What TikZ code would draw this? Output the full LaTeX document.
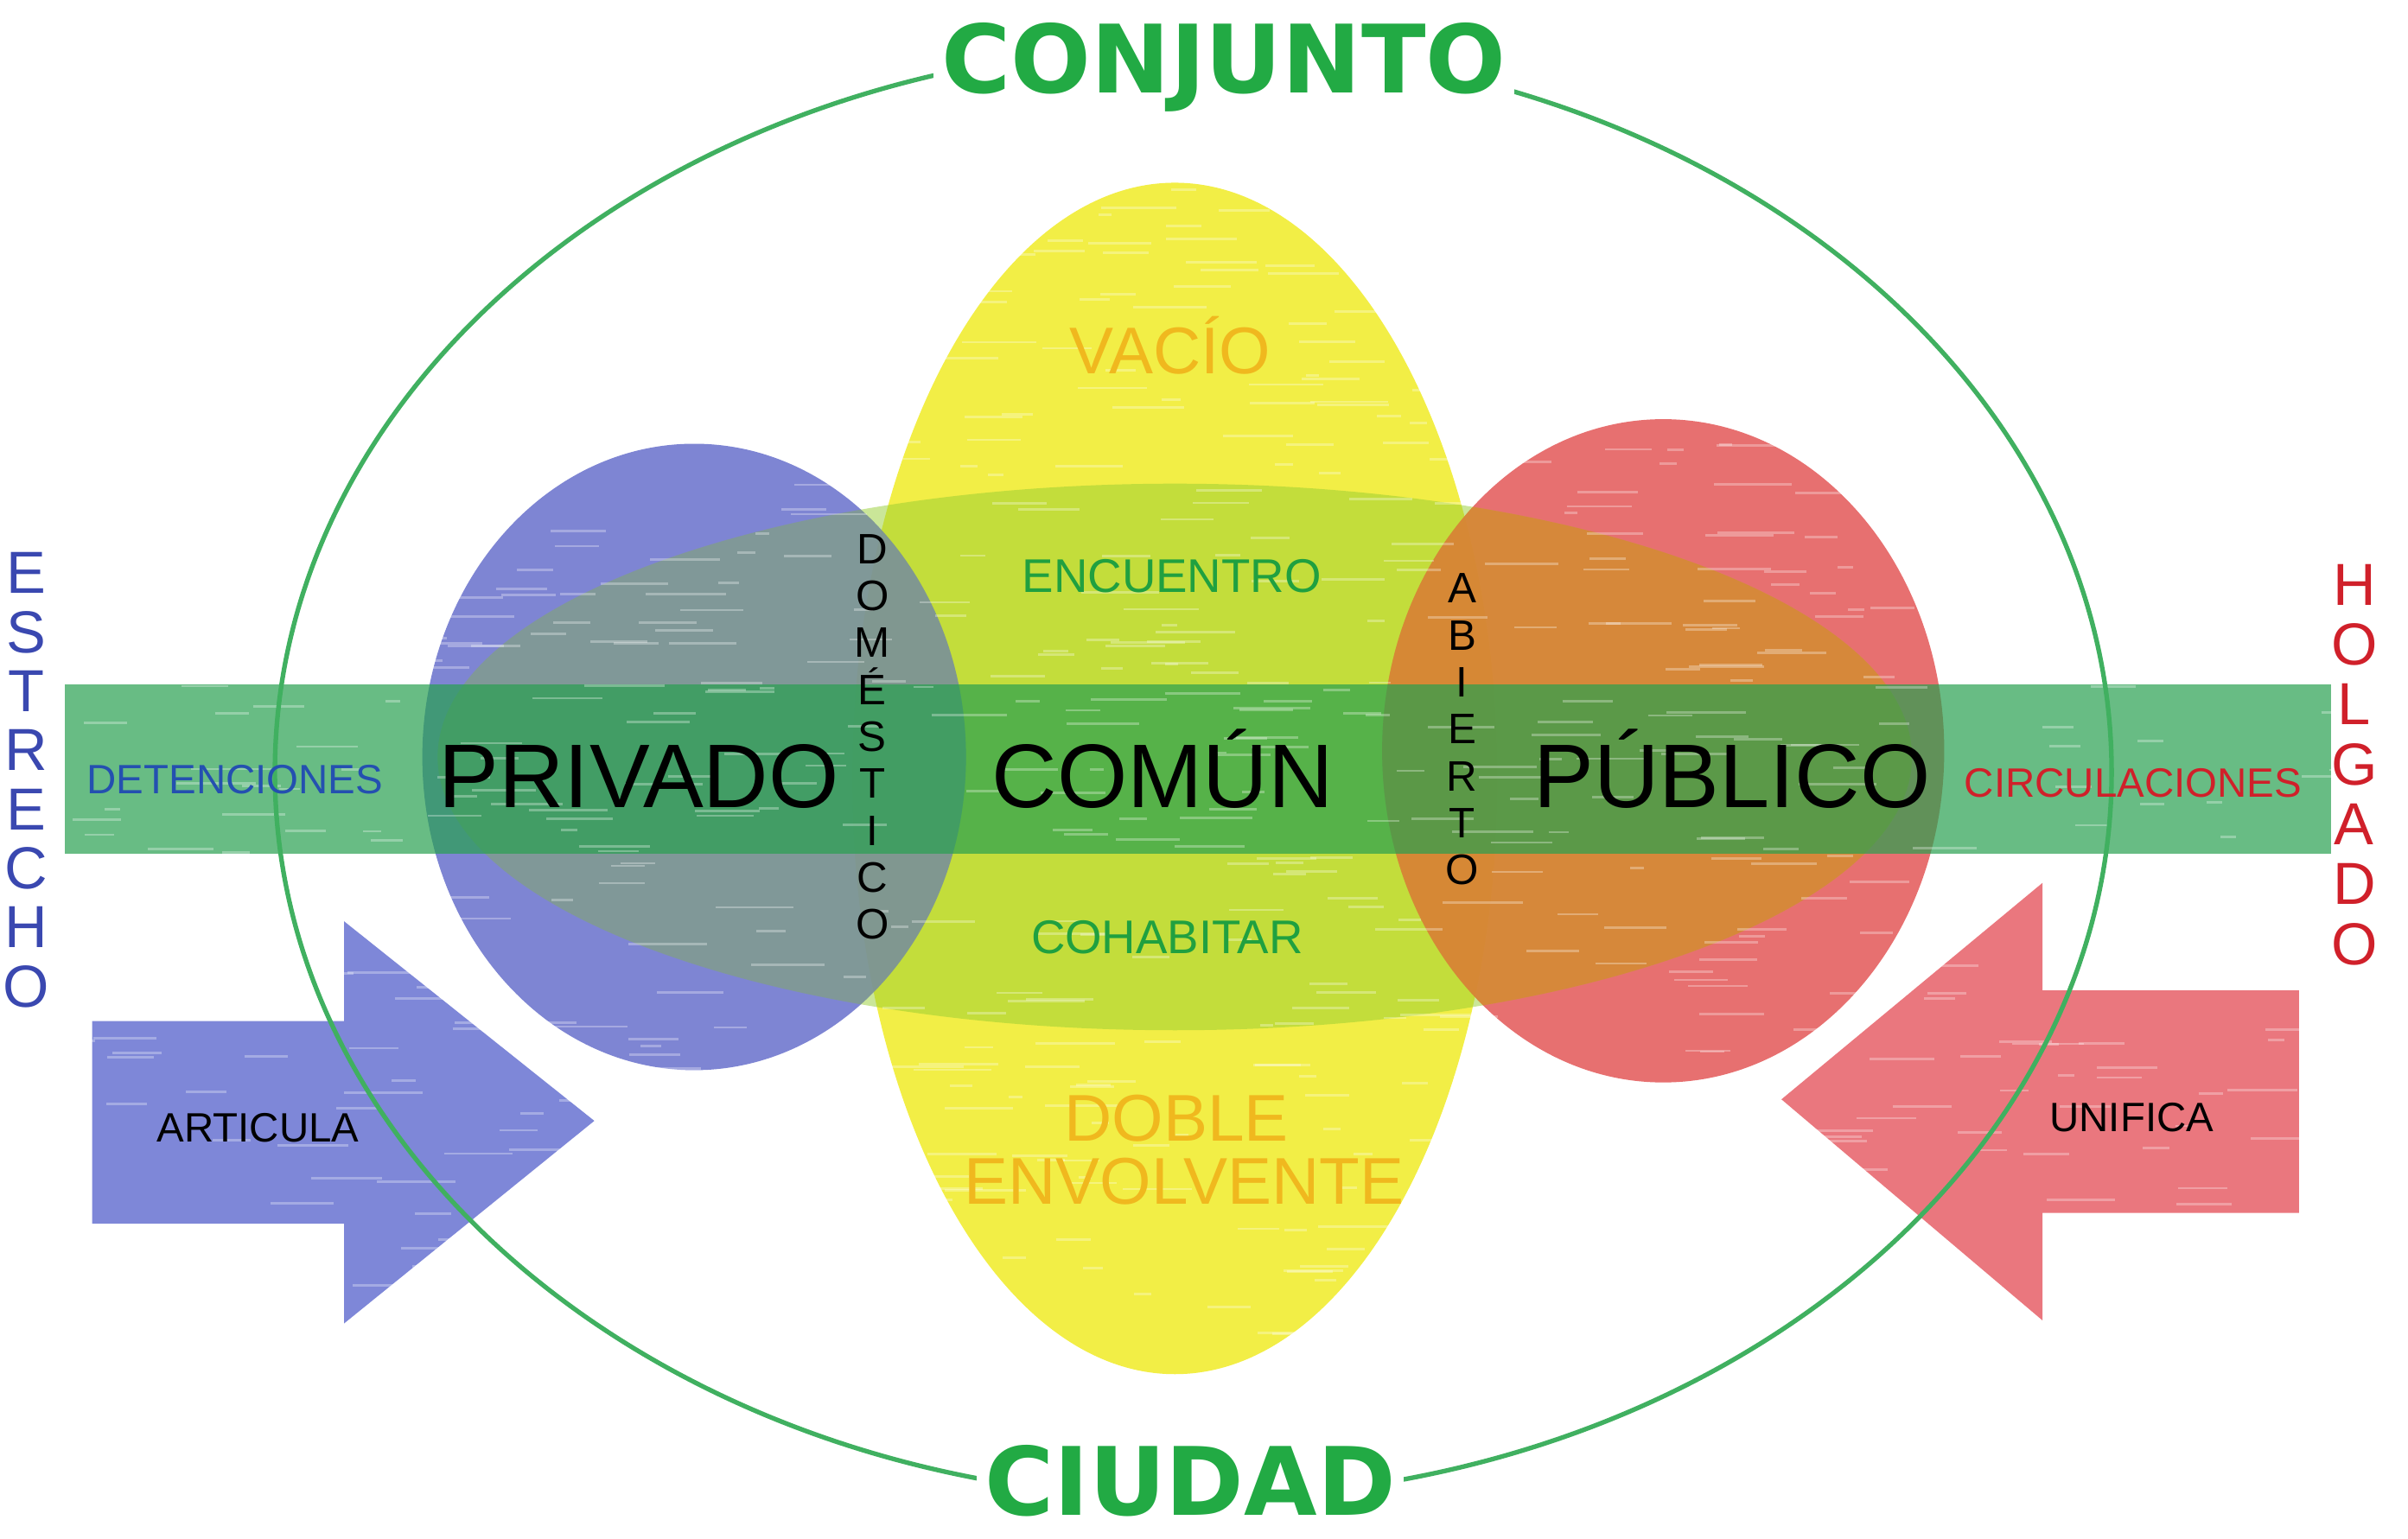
\documentclass[tikz,border=0pt]{standalone}
\usepackage{fontspec}
\setmainfont{Liberation Sans}
\newfontfamily\titlefont{DejaVu Sans}
\definecolor{cyel}{RGB}{242,238,70}
\definecolor{cblue}{RGB}{108,116,205}
\definecolor{cred}{RGB}{228,92,92}
\definecolor{cgreenell}{RGB}{150,205,50}
\definecolor{corange}{RGB}{235,120,40}
\definecolor{cband}{RGB}{40,160,80}
\definecolor{carrowb}{RGB}{112,122,212}
\definecolor{carrowr}{RGB}{232,104,112}
\definecolor{cline}{RGB}{64,176,96}
\definecolor{ctitle}{RGB}{34,170,68}
\definecolor{tblue}{RGB}{58,72,176}
\definecolor{tred}{RGB}{208,32,42}
\definecolor{tdet}{RGB}{36,80,176}
\definecolor{tgreen}{RGB}{32,160,64}
\definecolor{torange}{RGB}{240,184,30}
\tikzset{
  lbl/.style={inner sep=0pt, anchor=base},
  big/.style={lbl, font=\fontsize{33.5}{36}\selectfont},
  small/.style={lbl, font=\fontsize{15.2}{17}\selectfont},
  mid/.style={lbl, font=\fontsize{17.5}{19}\selectfont, text=tgreen},
  warm/.style={lbl, font=\fontsize{24.5}{26}\selectfont, text=torange},
  title/.style={lbl, font=\titlefont\bfseries\fontsize{35}{38}\selectfont, text=ctitle, fill=white, inner xsep=3pt, inner ysep=2pt},
  vstack/.style={inner sep=0pt, align=center},
}
\begin{document}
\begin{tikzpicture}[x=0.02cm,y=-0.02cm]
\useasboundingbox (0,0) rectangle (1568,1002);
% yellow ellipse
\fill[cyel] (765,507) ellipse [x radius=210, y radius=388];
% blue and red circles
\fill[cblue, opacity=0.88] (452,493) ellipse [x radius=177, y radius=204];
\fill[cred, opacity=0.88] (1083,489) ellipse [x radius=183, y radius=216];
% green horizontal ellipse
\fill[cgreenell, opacity=0.5] (765,493) ellipse [x radius=480, y radius=178];
% tints of the ellipse inside the circles
\begin{scope}
  \clip (1083,489) ellipse [x radius=183, y radius=216];
  \fill[corange, opacity=0.55] (765,493) ellipse [x radius=480, y radius=178];
\end{scope}
\begin{scope}
  \clip (452,493) ellipse [x radius=177, y radius=204];
  \fill[cblue, opacity=0.3] (765,493) ellipse [x radius=480, y radius=178];
\end{scope}
% green band
\fill[cband, opacity=0.7] (42,446) rectangle (1518,556);
% arrows
\fill[carrowb, opacity=0.9] (60,665) -- (224,665) -- (224,600) -- (387,730) -- (224,862) -- (224,797) -- (60,797) -- cycle;
\fill[carrowr, opacity=0.9] (1497,645) -- (1330,645) -- (1330,575) -- (1160,716) -- (1330,860) -- (1330,790) -- (1497,790) -- cycle;
% pencil texture
\pgfmathsetseed{7}
\foreach \i in {1,...,900}{
  \pgfmathsetmacro\xx{40+1480*rnd}
  \pgfmathsetmacro\yy{110+790*rnd}
  \pgfmathsetmacro\ll{8+45*rnd}
  \draw[white, opacity=0.3, line width=0.9pt] (\xx,\yy) -- ++(\ll,0);
}
% big outline ellipse
\draw[cline, line width=1.7pt] (777,503) ellipse [x radius=598, y radius=473];
% titles
\node[title] (conj) at (797,60.5) {CONJUNTO};
\node[title] (ciud) at (775,987) {CIUDAD};
% main words
\node[big] (priv) at (416,526) {PRIVADO};
\node[big] (comun) at (757,526) {COMÚN};
\node[big] (publ) at (1128,526) {PÚBLICO};
% yellow ellipse words
\node[warm] (vacio) at (762,243.5) {VACÍO};
\node[warm] (doble) at (766,743) {DOBLE};
\node[warm] (envol) at (771,784) {ENVOLVENTE};
\node[mid] (encu) at (763,386) {ENCUENTRO};
\node[mid] (cohab) at (760,621) {COHABITAR};
% band words
\node[small, text=tdet] (deten) at (153,517) {DETENCIONES};
\node[small, text=tred] (circ) at (1389,519) {CIRCULACIONES};
% arrow words
\node[small] (artic) at (168,744) {ARTICULA};
\node[small] (unif) at (1388,737) {UNIFICA};
% vertical words
\node[vstack, font=\fontsize{15.8}{17.4}\selectfont] (domes) at (568,480) {D\\O\\M\\É\\S\\T\\I\\C\\O};
\node[vstack, font=\fontsize{15.8}{17.4}\selectfont] (abier) at (952,475) {A\\B\\I\\E\\R\\T\\O};
\node[vstack, font=\fontsize{22}{21.9}\selectfont, text=tblue] (estr) at (17,508) {E\\S\\T\\R\\E\\C\\H\\O};
\node[vstack, font=\fontsize{22}{22.2}\selectfont, text=tred] (holg) at (1533,498) {H\\O\\L\\G\\A\\D\\O};
\end{tikzpicture}
\end{document}
